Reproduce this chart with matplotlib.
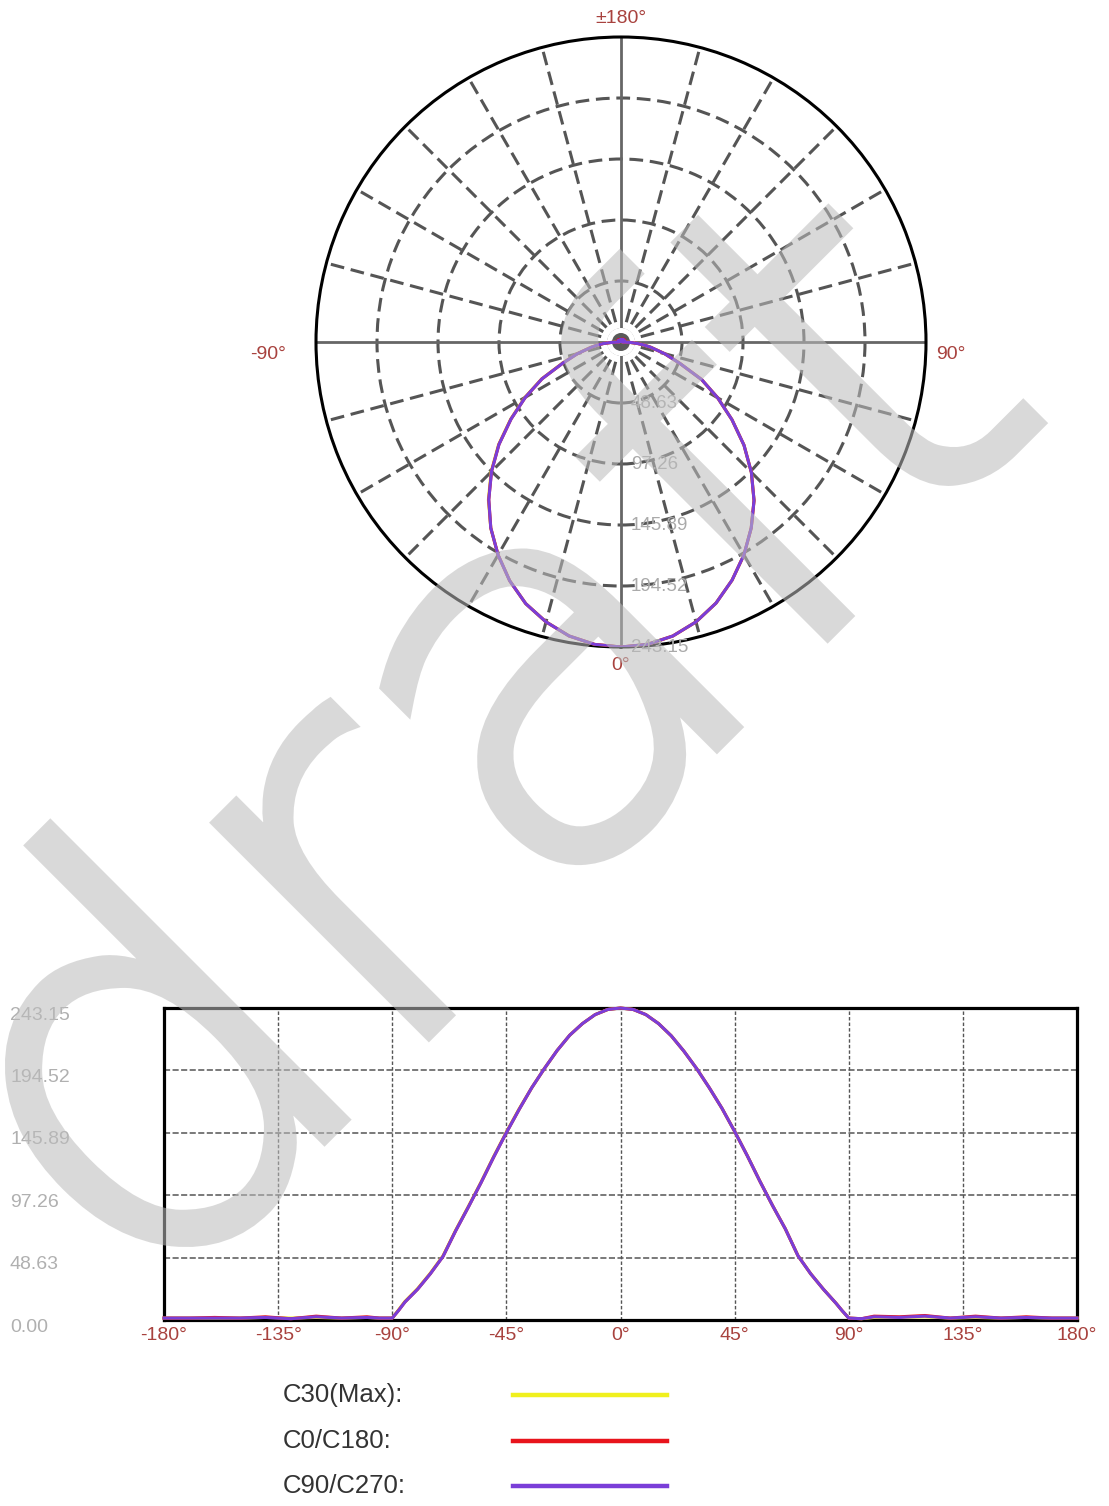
import numpy as np
import matplotlib
matplotlib.use("Agg")
import matplotlib.pyplot as plt
from matplotlib.lines import Line2D
from matplotlib.patches import Circle
from matplotlib import transforms
import matplotlib.patheffects as pe

W, H = 1109, 1506

# --- data --------------------------------------------------------------------
R_MAX = 243.15
RING_VALUES = [48.63, 97.26, 145.89, 194.52]
RING_LABELS = ["48.63", "97.26", "145.89", "194.52", "243.15"]
Y_LABELS = ["0.00", "48.63", "97.26", "145.89", "194.52", "243.15"]
Y_LABEL_VALUES = [0.0, 48.63, 97.26, 145.89, 194.52, 243.15]
X_TICKS = [-180, -135, -90, -45, 0, 45, 90, 135, 180]
X_TICK_LABELS = ["-180°", "-135°", "-90°", "-45°", "0°", "45°", "90°", "135°", "180°"]

gamma = [-180, -170, -160, -150, -140, -130, -120, -110, -100, -95,
         -90, -87.5, -85, -82.5, -80, -75, -70, -65, -60, -55, -50, -45,
         -40, -35, -30, -25, -20, -15, -10, -5, 0, 5, 10, 15, 20, 25, 30,
         35, 40, 45, 50, 55, 60, 65, 70, 75, 80, 82.5, 85, 87.5, 90, 95,
         100, 110, 120, 130, 140, 150, 160, 170, 180]
c30_max = [1.5, 1.5, 1.5, 1.5, 2.0, 1.5, 2.0, 1.5, 2.0, 1.5,
           1.5, 8.0, 14.5, 19.5, 24.5, 36.5, 50.0, 70.0, 88.5, 107.5,
           127.5, 146.5, 164.5, 181.0, 196.0, 210.0, 222.0, 231.0, 238.0,
           242.0, 243.15, 242.0, 238.0, 231.0, 221.5, 209.5, 196.0, 181.0,
           165.0, 147.0, 128.0, 108.0, 89.0, 71.0, 50.0, 36.0, 24.0, 18.5,
           13.0, 7.0, 1.5, 1.0, 2.0, 2.0, 2.5, 1.5, 2.0, 1.5, 2.0, 1.5, 1.5]
c0_c180 = [1.5, 1.5, 2.0, 1.5, 2.5, 1.0, 3.0, 1.5, 2.5, 1.5,
           1.5, 7.5, 14.0, 19.0, 24.0, 36.0, 49.5, 69.5, 88.0, 107.0,
           127.0, 146.0, 164.0, 181.0, 196.0, 210.0, 222.0, 231.0, 238.0,
           242.0, 243.15, 242.0, 238.0, 231.0, 221.5, 209.5, 196.0, 181.0,
           165.0, 147.0, 128.0, 108.0, 89.0, 71.0, 50.0, 36.0, 24.0, 18.5,
           13.0, 7.0, 1.5, 1.0, 3.0, 2.5, 3.5, 1.5, 3.0, 1.5, 2.5, 1.5, 1.5]
c90_c270 = [1.5, 1.5, 1.5, 1.5, 2.0, 1.0, 2.5, 1.5, 2.0, 1.5,
            1.5, 7.5, 14.0, 19.0, 24.0, 36.0, 49.5, 69.5, 88.0, 107.0,
            127.0, 146.0, 164.0, 181.0, 196.0, 210.0, 222.0, 231.0, 238.0,
            242.0, 243.15, 242.0, 238.0, 231.0, 221.5, 209.5, 196.0, 181.0,
            165.0, 147.0, 128.0, 108.0, 89.0, 71.0, 50.0, 36.0, 24.0, 18.5,
            13.0, 7.0, 1.5, 1.0, 2.5, 2.0, 3.0, 1.5, 2.5, 1.5, 2.0, 1.5, 1.5]

SERIES = [("C30(Max):", c30_max, "#f0f01e"),
          ("C0/C180:", c0_c180, "#e8141c"),
          ("C90/C270:", c90_c270, "#7a3ed8")]

RED = "#a8423e"
GRID = "#555555"
plt.rcParams["font.family"] = ["Liberation Sans", "DejaVu Sans"]

fig = plt.figure(figsize=(W / 100, H / 100), dpi=100)

# --- polar intensity diagram -------------------------------------------------
ax = fig.add_axes([316 / W, 1 - 647 / H, 610 / W, 610 / H], projection="polar")
ax.set_theta_zero_location("S")
ax.set_theta_direction(1)
ax.set_ylim(0, R_MAX)
spokes = [a for a in range(0, 360, 15) if a % 90]
ax.set_thetagrids(spokes, labels=[""] * len(spokes))
ax.set_rgrids(RING_VALUES, labels=[""] * len(RING_VALUES))
ax.grid(True, color=GRID, lw=2.2, ls=(0, (4.5, 2.2)))
ax.spines["polar"].set(color="black", lw=2.2)
ax.tick_params(length=0)
for a in (0, 90, 180, 270):
    ax.plot([np.radians(a)] * 2, [0, R_MAX], color="#666666", lw=2.0, zorder=1.8)
ax.add_artist(Circle((0.5, 0.5), 14 / 610, transform=ax.transAxes,
                     fc="white", ec="none", zorder=2.6))
ax.add_artist(Circle((0.5, 0.5), 9 / 610, transform=ax.transAxes,
                     fc="#595959", ec="none", zorder=2.7))
th = np.radians(gamma)
for _lab, vals, col in SERIES:
    ax.plot(th, vals, color=col, lw=2.2, zorder=3)

off = transforms.offset_copy(ax.transData, fig=fig, x=10, y=0, units="dots")
for r, lab in zip(RING_VALUES + [R_MAX], RING_LABELS):
    ax.text(0, r, lab, transform=off, ha="left", va="center",
            fontsize=13.5, color="#aaaaaa", zorder=4)

for txt, x, y in [("±180°", 0.5, 1.031), ("0°", 0.5, -0.03),
                  ("-90°", -0.079, 0.479), ("90°", 1.041, 0.479)]:
    ax.text(x, y, txt, transform=ax.transAxes, ha="center", va="center",
            fontsize=14, color=RED)

# --- cartesian diagram -------------------------------------------------------
bx = fig.add_axes([164 / W, 1 - 1320 / H, 913 / W, 312 / H])
for _lab, vals, col in SERIES:
    bx.plot(gamma, vals, color=col, lw=2.2, zorder=4, clip_on=False)
bx.set_xlim(-180, 180)
bx.set_ylim(0, R_MAX)
bx.set_xticks(X_TICKS)
bx.set_xticklabels(X_TICK_LABELS, fontsize=14, color=RED)
bx.tick_params(axis="x", length=0, pad=5)
bx.set_yticks([])
for v in RING_VALUES:
    bx.axhline(v, color=GRID, lw=1.1, ls=(0, (4, 1.6)), zorder=1)
for v in X_TICKS[1:-1]:
    bx.axvline(v, color=GRID, lw=1.0, ls=(0, (2.5, 1.5)), zorder=1)
for s in bx.spines.values():
    s.set(color="black", lw=2.3)

ylab_tr = transforms.offset_copy(
    transforms.blended_transform_factory(fig.transFigure, bx.transData),
    fig=fig, x=0, y=-7, units="dots")
for v, lab in zip(Y_LABEL_VALUES, Y_LABELS):
    fig.text(10 / W, v, lab, transform=ylab_tr, ha="left", va="center",
             fontsize=14, color="#b0b0b0")

# --- legend ------------------------------------------------------------------
for i, (lab, _vals, col) in enumerate(SERIES):
    y = 1 - (1395 + 45.5 * i) / H
    fig.text(283 / W, y, lab, ha="left", va="center", fontsize=18.5,
             color="#333333")
    fig.add_artist(Line2D([513 / W, 667 / W], [y, y], color=col, lw=3.2))


# --- watermark: opaque thin glyph + stroke, then faded as one layer ----------
def _fade(img, dpi):
    img = img.copy()
    img[..., 3] *= 0.56
    return img, 0, 0


wm = fig.text(142 / W, 1 - 1319 / H, "draft", fontsize=390,
              family="DejaVu Sans", fontweight="light", rotation=45,
              rotation_mode="anchor", ha="left", va="baseline",
              color="#bcbcbc", zorder=10,
              path_effects=[pe.Stroke(linewidth=10.5, foreground="#bcbcbc",
                                      joinstyle="miter"),
                            pe.Normal()])
wm.set_agg_filter(_fade)

fig.savefig("out.png", dpi=100)
